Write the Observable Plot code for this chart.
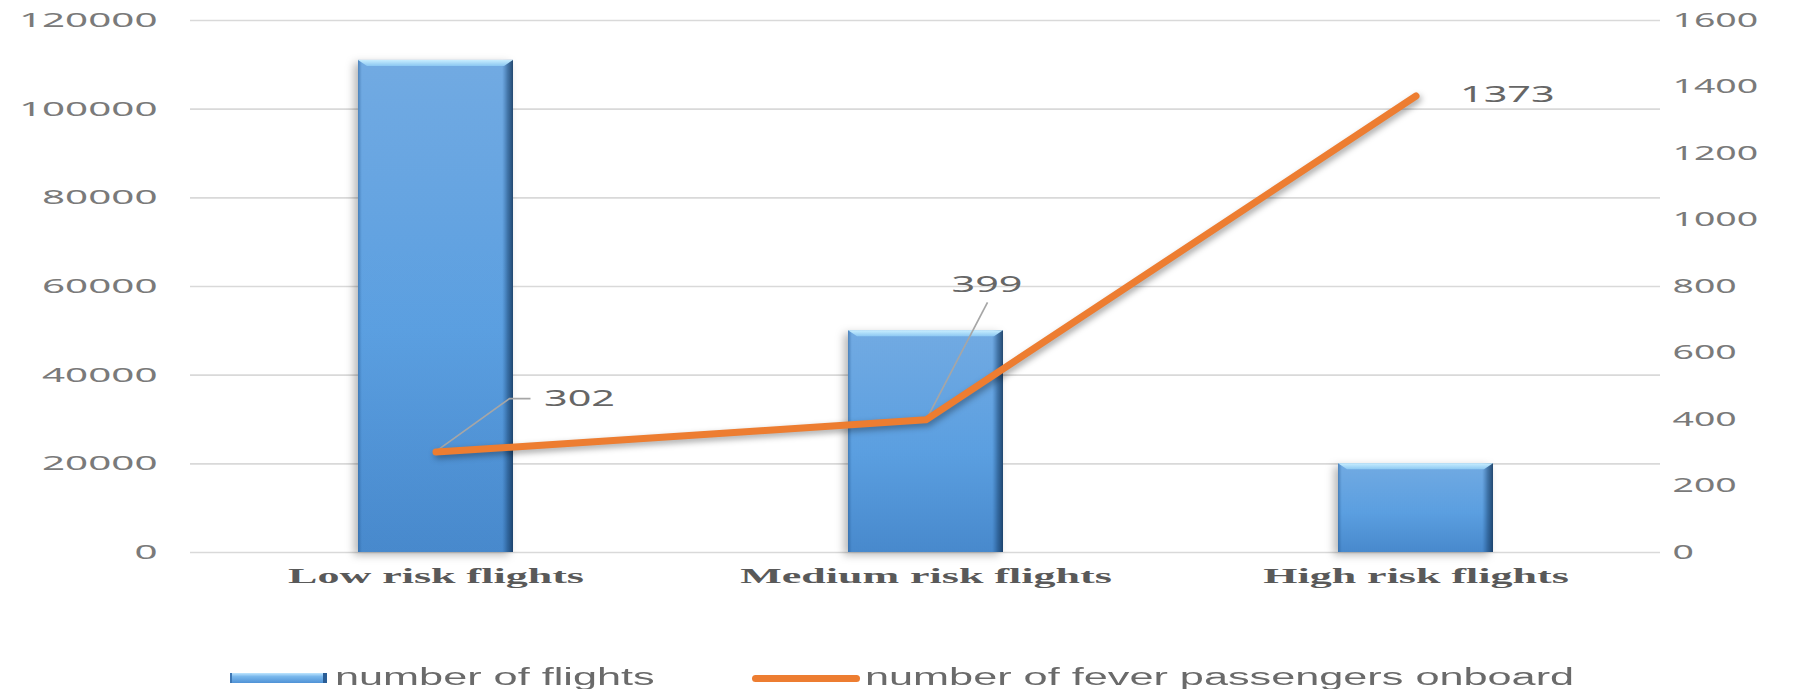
<!DOCTYPE html>
<html>
<head>
<meta charset="utf-8">
<script src="https://cdn.jsdelivr.net/npm/d3@7"></script>
<script src="https://cdn.jsdelivr.net/npm/@observablehq/plot@0.6"></script>
<style>
  body { margin: 0; background: #fff; width: 1799px; height: 689px; overflow: hidden; font-family: "Liberation Sans", Arial, sans-serif; }
  #chart svg { display: block; overflow: visible; }
  #legend { position: relative; width: 1799px; height: 69px; }
  .sw { position: absolute; }
  .lt { position: absolute; font-size: 23px; line-height: 23px; color: #6a6a6a; white-space: nowrap; transform-origin: left center; transform: scaleX(1.88); }
</style>
</head>
<body>
<div id="chart"></div>
<div id="legend"></div>
<script>
// ---- data ----
const categories = ["Low risk flights", "Medium risk flights", "High risk flights"];
const flights = [111000, 50000, 20000];
const feverPassengers = [302, 399, 1373];
const leftTicks = [0, 20000, 40000, 60000, 80000, 100000, 120000];
const rightTicks = [0, 200, 400, 600, 800, 1000, 1200, 1400, 1600];
const seriesNames = ["number of flights", "number of fever passengers onboard"];

// secondary axis mapping (0–1600 onto 0–120000)
const yRight = d3.scaleLinear().domain([0, 1600]).range([0, 120000]);
const rows = categories.map((c, i) => ({
  category: c, flights: flights[i], fever: feverPassengers[i], feverY: yRight(feverPassengers[i])
}));

// label placement (pixel offsets from the data point)
const labelLayout = [
  { dx: 108, dy: -53, anchor: "start", leader: [[0, 0], [74, -53], [95, -53]] },
  { dx: 61, dy: -135, anchor: "middle", leader: [[2, -2], [62, -117]] },
  { dx: 44, dy: -1, anchor: "start", leader: null }
];

function leaderMark(index, scales) {
  const x = scales.x, y = scales.y;
  const bw = typeof x.bandwidth === "function" ? x.bandwidth() : (x.bandwidth || 0);
  const g = d3.create("svg:g").attr("fill", "none").attr("stroke", "#a6a6a6").attr("stroke-width", 1.7);
  rows.forEach((r, i) => {
    const L = labelLayout[i];
    if (!L.leader) return;
    const px = x(r.category) + bw / 2, py = y(r.feverY);
    g.append("polyline").attr("points", L.leader.map(([a, b]) => `${px + a},${py + b}`).join(" "));
  });
  return g.node();
}

const plot = Plot.plot({
  width: 1799,
  height: 620,
  marginTop: 20,
  marginBottom: 68,
  marginLeft: 190,
  marginRight: 139,
  x: { domain: categories, paddingInner: 0.684, paddingOuter: 0.342, label: null },
  y: { domain: [0, 120000], label: null },
  marks: [
    Plot.gridY(leftTicks, { stroke: "#d9d9d9", strokeOpacity: 1, strokeWidth: 1.6 }),
    Plot.axisY(leftTicks, { anchor: "left", tickSize: 0, tickPadding: 33, fontSize: 20.5, color: "#7a7a7a", tickFormat: d => String(d), label: null }),
    Plot.axisY(rightTicks.map(v => yRight(v)), { anchor: "right", tickSize: 0, tickPadding: 12, fontSize: 19, color: "#7a7a7a", tickFormat: d => String(Math.round(yRight.invert(d))), label: null }),
    Plot.axisX({ tickSize: 0, tickPadding: 16, fontSize: 20, fontWeight: "bold", fontFamily: "'Liberation Serif', 'Times New Roman', serif", color: "#595959", label: null }),
    Plot.barY(rows, { x: "category", y: "flights", fill: "url(#barV)" }),
    Plot.barY(rows, { x: "category", y: "flights", fill: "url(#barH)" }),
    leaderMark,
    Plot.line(rows, { x: "category", y: "feverY", stroke: "#ed7d31", strokeWidth: 7, strokeLinecap: "round", strokeLinejoin: "round" }),
    ...labelLayout.map((L, i) => Plot.text([rows[i]], {
      x: "category", y: "feverY", text: d => String(d.fever), dx: L.dx, dy: L.dy,
      textAnchor: L.anchor, fontSize: 21, fill: "#666666"
    }))
  ]
});

document.getElementById("chart").append(plot);
const svg = d3.select(plot);

// gradients
const defs = svg.insert("defs", ":first-child");
const gv = defs.append("linearGradient").attr("id", "barV").attr("x1", 0).attr("y1", 0).attr("x2", 0).attr("y2", 1);
gv.append("stop").attr("offset", "0%").attr("stop-color", "#76afe7");
gv.append("stop").attr("offset", "55%").attr("stop-color", "#5ea3e5");
gv.append("stop").attr("offset", "100%").attr("stop-color", "#4a8cd0");
const gh = defs.append("linearGradient").attr("id", "barH").attr("x1", 0).attr("y1", 0).attr("x2", 1).attr("y2", 0);
gh.append("stop").attr("offset", "0%").attr("stop-color", "#1c4f86").attr("stop-opacity", 0.45);
gh.append("stop").attr("offset", "2.5%").attr("stop-color", "#1c4f86").attr("stop-opacity", 0.05);
gh.append("stop").attr("offset", "93%").attr("stop-color", "#1c4f86").attr("stop-opacity", 0.05);
gh.append("stop").attr("offset", "96.5%").attr("stop-color", "#163f6b").attr("stop-opacity", 0.5);
gh.append("stop").attr("offset", "100%").attr("stop-color", "#0f2f52").attr("stop-opacity", 0.8);
const gt = defs.append("linearGradient").attr("id", "bevelTop").attr("x1", 0).attr("y1", 0).attr("x2", 0).attr("y2", 1);
gt.append("stop").attr("offset", "0%").attr("stop-color", "#c8eeff");
gt.append("stop").attr("offset", "100%").attr("stop-color", "#8cc8f2");

// bar decorations
const barGroups = svg.selectAll("g[aria-label='bar']").nodes();
if (barGroups.length) {
  d3.select(barGroups[0]).style("filter", "drop-shadow(-4px 3px 4px rgba(0,0,0,0.28))");
  const over = d3.select(barGroups[barGroups.length - 1]);
  over.selectAll("rect").each(function () {
    const r = d3.select(this);
    const x = +r.attr("x"), y = +r.attr("y"), w = +r.attr("width");
    over.append("polygon")
      .attr("points", `${x},${y} ${x + w},${y} ${x + w - 9},${y + 6} ${x + 9},${y + 6}`)
      .attr("fill", "url(#bevelTop)");
  });
}
svg.selectAll("g[aria-label='line']").style("filter", "drop-shadow(2px 3px 3px rgba(0,0,0,0.35))");

// horizontally stretched text (the reference is stretched wide)
svg.selectAll("text").each(function () {
  const fam = getComputedStyle(this).fontFamily || "";
  const k = /Serif|Times/i.test(fam) && !/Sans/i.test(fam) ? 2.2 : 1.97;
  const L = this.getComputedTextLength();
  if (L > 0) {
    this.setAttribute("textLength", (L * k).toFixed(1));
    this.setAttribute("lengthAdjust", "spacingAndGlyphs");
  }
});

// legend
const legend = d3.select("#legend");
legend.append("div").attr("class", "sw")
  .style("left", "230px").style("top", "53px").style("width", "97px").style("height", "10px")
  .style("background", "linear-gradient(to bottom, #bfe6ff 0%, #7ab8ec 35%, #4f92d6 100%)")
  .style("box-shadow", "inset -4px 0 0 #2a5d95, inset 2px 0 0 #3f78b5");
legend.append("div").attr("class", "lt").style("left", "335px").style("top", "46px").text(seriesNames[0]);
legend.append("div").attr("class", "sw")
  .style("left", "752px").style("top", "54.5px").style("width", "108px").style("height", "7px")
  .style("background", "#ed7d31").style("border-radius", "4px");
legend.append("div").attr("class", "lt").style("left", "865px").style("top", "46px").text(seriesNames[1]);
</script>
</body>
</html>
